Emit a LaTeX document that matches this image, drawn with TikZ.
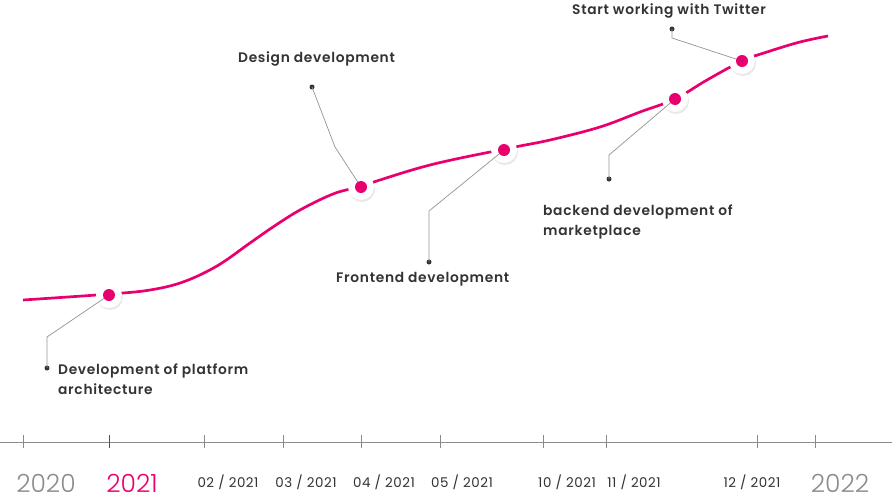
\documentclass[tikz,border=0pt]{standalone}
\usepackage{fontspec}
\setmainfont{Poppins}
\newfontfamily\lblfont[LetterSpace=5]{Poppins SemiBold}
\newfontfamily\tickfont[LetterSpace=4]{Poppins}
\newfontfamily\yearfont{Poppins Light}
\usetikzlibrary{shadows}
\definecolor{pinkc}{HTML}{E8006E}
\definecolor{txt}{HTML}{333333}
\definecolor{axisc}{HTML}{8A8A8A}
\definecolor{yearc}{HTML}{8C8C8C}
\begin{document}
\begin{tikzpicture}[x=1pt,y=-1pt,
  lbl/.style={anchor=west,text=txt,font=\lblfont\fontsize{13.8}{20}\selectfont,align=left,inner sep=0pt},
  ticklbl/.style={text=txt,font=\tickfont\fontsize{13.4}{14}\selectfont,inner sep=0pt},
  yearlbl/.style={text=yearc,font=\yearfont\fontsize{25}{26}\selectfont,inner sep=0pt},
  halo/.style={circle,fill=white,minimum size=26pt,inner sep=0pt,drop shadow={opacity=0.18,shadow xshift=1pt,shadow yshift=-2pt}},
  dotc/.style={circle,fill=pinkc,minimum size=12pt,inner sep=0pt},
  enddot/.style={circle,fill=txt,minimum size=5pt,inner sep=0pt},
  leader/.style={draw=gray!85,line width=0.7pt},
  tickm/.style={draw=axisc,line width=0.8pt}]
\useasboundingbox (0,0) rectangle (892,501);
% axis
\coordinate (axL) at (0,442);
\coordinate (axR) at (892,442);
\draw[axisc,line width=0.9pt] (axL) -- (axR);
\foreach \x in {23,204,283,361,440,543,606,757,815}
  \draw[tickm] (\x,435) -- (\x,448);
\draw[pinkc,line width=0.8pt] (109,435) -- (109,448);
\node[yearlbl] (y2020) at (46,483) {2020};
\node[yearlbl,text=pinkc] (y2021) at (132,483) {2021};
\node[ticklbl] (m02) at (228,482) {02 / 2021};
\node[ticklbl] (m03) at (306,482) {03 / 2021};
\node[ticklbl] (m04) at (384,482) {04 / 2021};
\node[ticklbl] (m05) at (462,482) {05 / 2021};
\node[ticklbl] (m10) at (567,482) {10 / 2021};
\node[ticklbl] (m11) at (634,482) {11 / 2021};
\node[ticklbl] (m12) at (752,482) {12 / 2021};
\node[yearlbl] (y2022) at (840,483) {2022};
% curve
\draw[pinkc,line width=2.7pt] plot[smooth,tension=0.6] coordinates {(23,300) (110,294) (150,290) (183,282) (217,266) (250,243) (273,227) (300,210) (333,194) (361,186) (430,165) (510,148) (550,140) (600,127) (640,112) (675,99) (707,80) (742,61) (767,52) (800,42) (828,36)};
% halos
\node[halo] (h1) at (109,295) {};
\node[halo] (h2) at (361,187) {};
\node[halo] (h3) at (504,150) {};
\node[halo] (h4) at (675,99) {};
\node[halo] (h5) at (742,61) {};
% leaders
\node[enddot] (e1) at (47,368) {};
\node[enddot] (e2) at (312,87) {};
\node[enddot] (e3) at (429,262) {};
\node[enddot] (e4) at (609,179) {};
\node[enddot] (e5) at (672,29) {};
\coordinate (b1) at (47,337);
\coordinate (b2) at (335,147);
\coordinate (b3) at (429,211);
\coordinate (b4) at (609,155);
\coordinate (b5) at (672,38);
\draw[leader] (h1.center) -- (b1) -- (e1.center);
\draw[leader] (e2.center) -- (b2) -- (h2.center);
\draw[leader] (h3.center) -- (b3) -- (e3.center);
\draw[leader] (h4.center) -- (b4) -- (e4.center);
\draw[leader] (e5.center) -- (b5) -- (h5.center);
% pink dots
\node[dotc] (d1) at (h1) {};
\node[dotc] (d2) at (h2) {};
\node[dotc] (d3) at (h3) {};
\node[dotc] (d4) at (h4) {};
\node[dotc] (d5) at (h5) {};
% labels
\node[lbl] (t1) at (58,379) {Development of platform\\architecture};
\node[lbl] (t2) at (238,59) {Design development};
\node[lbl] (t3) at (336,279) {Frontend development};
\node[lbl] (t4) at (543,222) {backend development of\\marketplace};
\node[lbl] (t5) at (572,11) {Start working with Twitter};
\end{tikzpicture}
\end{document}
